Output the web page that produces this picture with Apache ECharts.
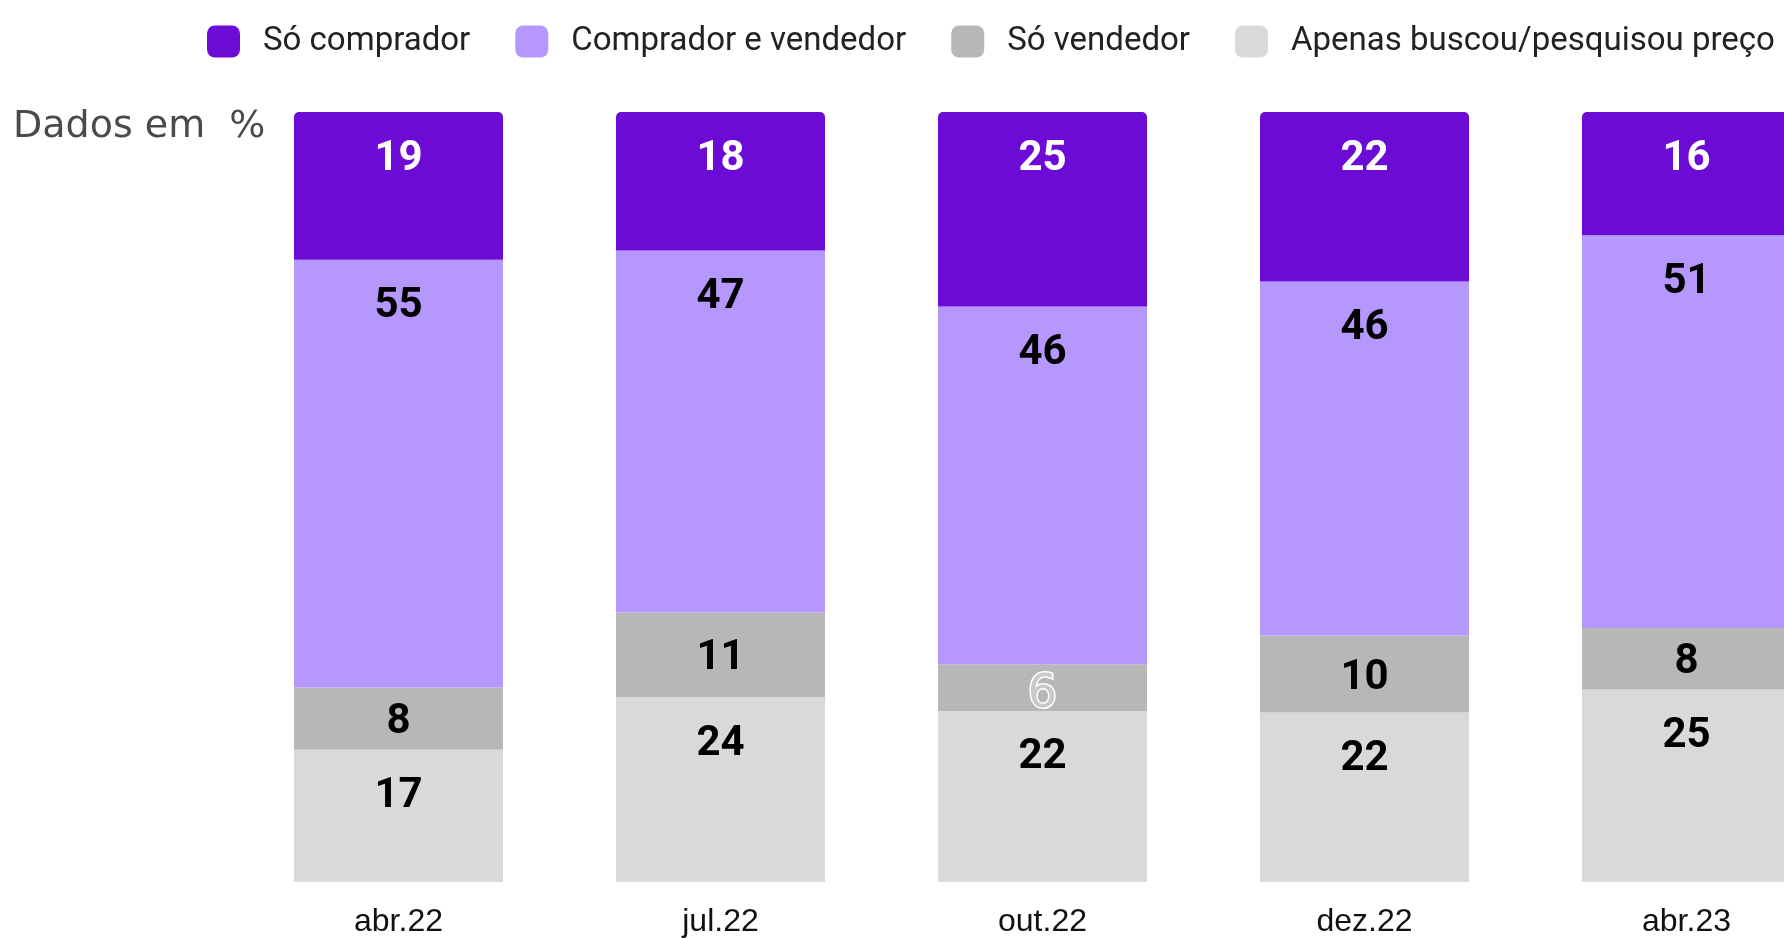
<!DOCTYPE html>
<html>
<head>
<meta charset="utf-8">
<script src="https://cdn.jsdelivr.net/npm/echarts@6/dist/echarts.min.js"></script>
<style>
html,body{margin:0;padding:0;background:#fff;}
#chart{width:1784px;height:938px;}
</style>
</head>
<body>
<div id="chart"></div>
<script>
const categories = ['abr.22', 'jul.22', 'out.22', 'dez.22', 'abr.23'];
const soComprador = [19, 18, 25, 22, 16];
const compradorVendedor = [55, 47, 46, 46, 51];
const soVendedor = [8, 11, 6, 10, 8];
const apenasBuscou = [17, 24, 22, 22, 25];
const seriesNames = ['Só comprador', 'Comprador e vendedor', 'Só vendedor', 'Apenas buscou/pesquisou preço'];
const unitLabel = 'Dados em  %';

const colors = {
  'Só comprador': '#6C0AD6',
  'Comprador e vendedor': '#B597FD',
  'Só vendedor': '#B7B7B7',
  'Apenas buscou/pesquisou preço': '#D9D9D9'
};

const GRID_TOP = 112, GRID_BOTTOM = 56;
const GRID_H = 938 - GRID_TOP - GRID_BOTTOM;

const totals = categories.map((c, i) => soComprador[i] + compradorVendedor[i] + soVendedor[i] + apenasBuscou[i]);

function makeSeries(name, values, labelColor, isTop) {
  return {
    name: name,
    type: 'bar',
    stack: 'total',
    barWidth: 209,
    itemStyle: { color: colors[name], borderRadius: isTop ? [5, 5, 0, 0] : 0 },
    emphasis: { disabled: true },
    data: values.map((v, i) => {
      const pct = v / totals[i] * 100;
      const hPx = pct / 100 * GRID_H;
      const yOff = Math.min(hPx / 2, 43) + 4;
      const special = (name === 'Só vendedor' && categories[i] === 'out.22');
      const label = {
        show: true,
        position: ['50%', yOff],
        align: 'center',
        verticalAlign: 'middle',
        formatter: String(v),
        fontFamily: 'Roboto',
        fontWeight: 'bold',
        fontSize: 42,
        color: labelColor
      };
      if (special) {
        label.position = ['50%', yOff + 3];
        label.color = '#C9C9C9';
        label.textBorderColor = '#FFFFFF';
        label.textBorderWidth = 3;
        label.fontWeight = 'normal';
        label.fontFamily = 'DejaVu Sans';
        label.fontSize = 46;
      }
      return { value: pct, label: label };
    })
  };
}

const chart = echarts.init(document.getElementById('chart'), null, { renderer: 'canvas' });
chart.setOption({
  animation: false,
  backgroundColor: '#fff',
  title: {
    text: unitLabel,
    left: 8,
    top: 103,
    textStyle: { fontFamily: 'DejaVu Sans', fontWeight: 'normal', fontSize: 38, color: '#4a4a4a' }
  },
  legend: {
    data: seriesNames,
    left: 202,
    top: 20,
    width: 1580,
    itemWidth: 33,
    itemHeight: 32,
    itemGap: 45,
    icon: 'roundRect',
    selectedMode: false,
    textStyle: { fontFamily: 'Roboto', fontSize: 33, color: '#222', padding: [0, 0, 0, 18] }
  },
  grid: { left: 237.5, width: 1610, top: GRID_TOP, bottom: GRID_BOTTOM, containLabel: false, outerBoundsMode: 'none' },
  xAxis: {
    type: 'category',
    data: categories,
    axisLine: { show: false },
    axisTick: { show: false },
    axisLabel: { fontFamily: 'Liberation Sans', fontSize: 32, color: '#111', margin: 24 }
  },
  yAxis: { type: 'value', min: 0, max: 100, show: false },
  series: [
    makeSeries('Apenas buscou/pesquisou preço', apenasBuscou, '#000', false),
    makeSeries('Só vendedor', soVendedor, '#000', false),
    makeSeries('Comprador e vendedor', compradorVendedor, '#000', false),
    makeSeries('Só comprador', soComprador, '#fff', true)
  ]
});
</script>
</body>
</html>
